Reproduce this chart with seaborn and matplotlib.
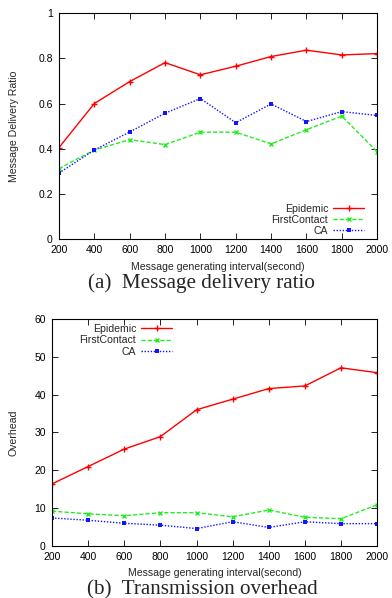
import matplotlib
matplotlib.use("Agg")
import matplotlib.pyplot as plt
import seaborn as sns
import pandas as pd

intervals = [200, 400, 600, 800, 1000, 1200, 1400, 1600, 1800, 2000]

ratio_epidemic = [0.405, 0.600, 0.697, 0.781, 0.727, 0.765, 0.808, 0.836, 0.815, 0.821]
ratio_firstcontact = [0.312, 0.394, 0.440, 0.418, 0.473, 0.473, 0.421, 0.484, 0.544, 0.387]
ratio_ca = [0.292, 0.394, 0.474, 0.557, 0.622, 0.515, 0.598, 0.520, 0.564, 0.547]

overhead_epidemic = [16.4, 21.0, 25.6, 28.9, 36.0, 38.8, 41.6, 42.3, 47.1, 45.8]
overhead_firstcontact = [9.2, 8.5, 8.0, 8.8, 8.8, 7.7, 9.5, 7.6, 7.2, 10.9]
overhead_ca = [7.4, 6.8, 6.0, 5.5, 4.6, 6.4, 4.9, 6.4, 5.9, 5.9]

series_names = ["Epidemic", "FirstContact", "CA"]
ratio_ticks = [0, 0.2, 0.4, 0.6, 0.8, 1]
ratio_ticklabels = ["0", "0.2", "0.4", "0.6", "0.8", "1"]
overhead_ticks = [0, 10, 20, 30, 40, 50, 60]

sns.set_theme(style="ticks")
plt.rcParams["font.family"] = ["Liberation Sans", "DejaVu Sans"]
plt.rcParams["xtick.direction"] = "in"
plt.rcParams["ytick.direction"] = "in"
plt.rcParams["legend.numpoints"] = 1

styles = {
    "Epidemic": dict(color="#ff0000", marker="+", linestyle="-", markersize=5, markeredgewidth=1.0),
    "FirstContact": dict(color="#22ee22", marker="x", linestyle=(0, (3, 1.5)), markersize=3.5, markeredgewidth=1.0),
    "CA": dict(color="#1414ff", marker="s", linestyle=(0, (1, 1.2)), markersize=3.5, markeredgewidth=0),
}

fig = plt.figure(figsize=(3.92, 5.98), dpi=100)
ax1 = fig.add_axes([0.1505, 0.6003, 0.8115, 0.3777])
ax2 = fig.add_axes([0.1327, 0.0870, 0.8293, 0.3796])


def draw(ax, ys):
    for name, y in zip(series_names, ys):
        df = pd.DataFrame({"x": intervals, "y": y})
        st = styles[name]
        sns.lineplot(data=df, x="x", y="y", ax=ax, label=name, color=st["color"],
                     marker=st["marker"], linestyle=st["linestyle"], markersize=st["markersize"],
                     markeredgewidth=st["markeredgewidth"], markeredgecolor=st["color"],
                     linewidth=1.0)
    ax.set_xlim(200, 2000)
    ax.set_xticks(intervals)
    ax.tick_params(axis="both", which="both", top=True, right=True, direction="in",
                   labelsize=7.5, length=4, width=0.6, pad=4.5, colors="black")
    for sp in ax.spines.values():
        sp.set_linewidth(0.8)
        sp.set_color("black")
        sp.set_visible(True)
    ax.set_xlabel("Message generating interval(second)", fontsize=7.6)
    ax.xaxis.label.set_va("center")


draw(ax1, [ratio_epidemic, ratio_firstcontact, ratio_ca])
ax1.set_ylim(0, 1)
ax1.set_yticks(ratio_ticks)
ax1.set_yticklabels(ratio_ticklabels)
ax1.set_ylabel("Message Delivery Ratio", fontsize=7.6)
ax1.yaxis.label.set_va("center")
ax1.yaxis.set_label_coords(-0.1415, 0.5)
ax1.xaxis.set_label_coords(0.5, -0.124)
ax1.legend(loc="lower right", bbox_to_anchor=(0.959, 0.013), frameon=False, markerfirst=False,
           fontsize=7.6, handlelength=2.9, labelspacing=0.12, handletextpad=0.5, borderpad=0.0,
           borderaxespad=0.0)

draw(ax2, [overhead_epidemic, overhead_firstcontact, overhead_ca])
ax2.set_ylim(0, 60)
ax2.set_yticks(overhead_ticks)
ax2.set_ylabel("Overhead", fontsize=7.6)
ax2.yaxis.label.set_va("center")
ax2.yaxis.set_label_coords(-0.117, 0.5)
ax2.xaxis.set_label_coords(0.5, -0.119)
ax2.legend(loc="upper right", bbox_to_anchor=(0.369, 0.978), frameon=False, markerfirst=False,
           fontsize=7.6, handlelength=2.9, labelspacing=0.12, handletextpad=0.5, borderpad=0.0,
           borderaxespad=0.0)

fig.text(0.513, 0.5184, "(a)  Message delivery ratio", ha="center", va="baseline",
         fontsize=15.2, family=["Liberation Serif", "DejaVu Serif"])
fig.text(0.515, 0.0067, "(b)  Transmission overhead", ha="center", va="baseline",
         fontsize=15.2, family=["Liberation Serif", "DejaVu Serif"])

fig.savefig("out.png", dpi=100)
